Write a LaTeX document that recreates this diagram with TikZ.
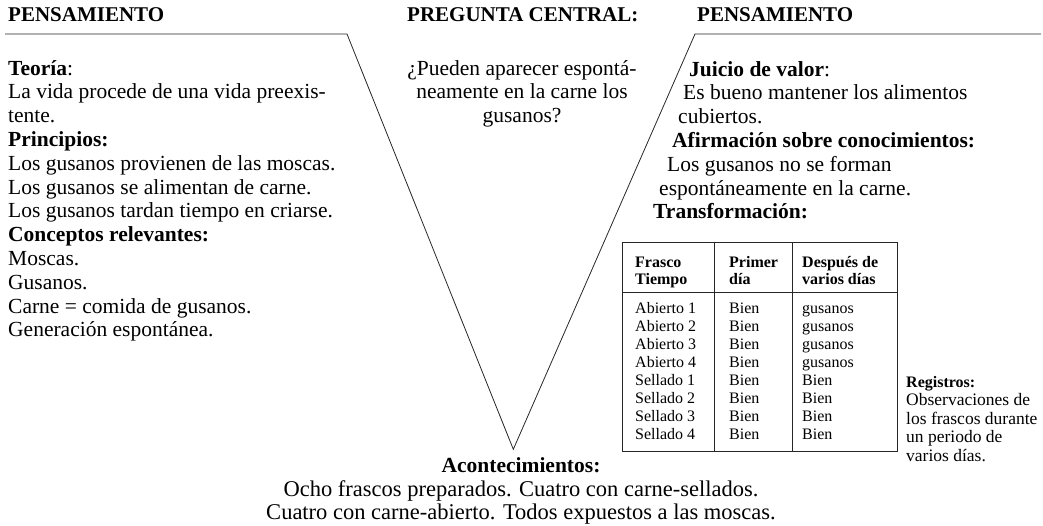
\documentclass[tikz,border=0pt]{standalone}
\usepackage{fontspec}
\setmainfont{Liberation Serif}
\begin{document}
\begin{tikzpicture}[x=1pt,y=-1pt,
  txt/.style={anchor=base west,inner sep=0pt,font=\fontsize{21.5}{24}\selectfont},
  ctxt/.style={txt,anchor=base},
  btxt/.style={ctxt,font=\fontsize{22.5}{24}\selectfont},
  head/.style={txt,font=\fontsize{21}{24}\selectfont\bfseries},
  cell/.style={anchor=base west,inner sep=0pt,font=\fontsize{16}{18}\selectfont},
  hcell/.style={cell,font=\fontsize{16}{18}\selectfont\bfseries},
  reg/.style={cell,font=\fontsize{17.5}{18}\selectfont},
  vline/.style={line width=0.8pt,black!85}]
\useasboundingbox (0,0) rectangle (1043,525);
% encabezados
\node[head] (pens-izq) at (8,21) {PENSAMIENTO};
\node[head] (pregunta) at (407,21) {PREGUNTA CENTRAL:};
\node[head] (pens-der) at (697,21) {PENSAMIENTO};
% la V
\coordinate (v-izq) at (5,34);
\coordinate (v-a) at (347,34);
\coordinate (v-pico) at (513.3,449.3);
\coordinate (v-b) at (695,34);
\coordinate (v-der) at (1041,34);
\draw[vline] (v-izq)--(v-a)--(v-pico)--(v-b)--(v-der);
% lado izquierdo
\foreach \t [count=\i from 0] in {{\textbf{Teoría}:},La vida procede de una vida preexis-,tente.,
  \textbf{Principios:},Los gusanos provienen de las moscas.,Los gusanos se alimentan de carne.,
  Los gusanos tardan tiempo en criarse.,\textbf{Conceptos relevantes:},Moscas.,Gusanos.,
  Carne = comida de gusanos.,Generación espontánea.}
  \node[txt] (izq\i) at (8,75+23.8*\i) {\t};
% pregunta central
\foreach \t [count=\i from 0] in {¿Pueden aparecer espontá-,neamente en la carne los,gusanos?}
  \node[ctxt] (preg\i) at (522,75+23.8*\i) {\t};
% lado derecho
\foreach \x/\t [count=\i from 0] in {689/{\textbf{Juicio de valor}:},683/Es bueno mantener los alimentos,
  678/cubiertos.,672/\textbf{Afirmación sobre conocimientos:},667/Los gusanos no se forman,
  659/espontáneamente en la carne.,653/\textbf{Transformación:}}
  \node[txt] (der\i) at (\x,76+23.8*\i) {\t};
% tabla
\draw[vline] (622.7,242.3) rectangle (897.7,451.7);
\draw[vline] (714.3,242.3)--(714.3,451.7) (792.7,242.3)--(792.7,451.7);
\draw[vline] (622.7,292)--(897.7,292);
\node[hcell] (h-frasco) at (635,267) {Frasco};
\node[hcell] (h-tiempo) at (635,284.5) {Tiempo};
\node[hcell] (h-primer) at (729,267) {Primer};
\node[hcell] (h-dia) at (729,284.5) {día};
\node[hcell] (h-despues) at (802,267) {Después de};
\node[hcell] (h-varios) at (802,284.5) {varios días};
\foreach \n/\r [count=\i from 0] in {Abierto 1/gusanos,Abierto 2/gusanos,Abierto 3/gusanos,Abierto 4/gusanos,
  Sellado 1/Bien,Sellado 2/Bien,Sellado 3/Bien,Sellado 4/Bien} {
  \node[cell] (fr\i) at (635,313+18*\i) {\n};
  \node[cell] (pd\i) at (729,313+18*\i) {Bien};
  \node[cell] (vd\i) at (802,313+18*\i) {\r};
}
% registros
\node[hcell] (reg0) at (906,387) {Registros:};
\foreach \t [count=\i from 1] in {Observaciones de,los frascos durante,un periodo de,varios días.}
  \node[reg] (reg\i) at (906,387+18.5*\i) {\t};
% acontecimientos
\node[ctxt] (acon0) at (521,472.5) {\textbf{Acontecimientos:}};
\foreach \t [count=\i from 1] in {Ocho frascos preparados. Cuatro con carne-sellados.,
  Cuatro con carne-abierto. Todos expuestos a las moscas.}
  \node[btxt] (acon\i) at (521,472.5+23.6*\i) {\t};
\end{tikzpicture}
\end{document}
